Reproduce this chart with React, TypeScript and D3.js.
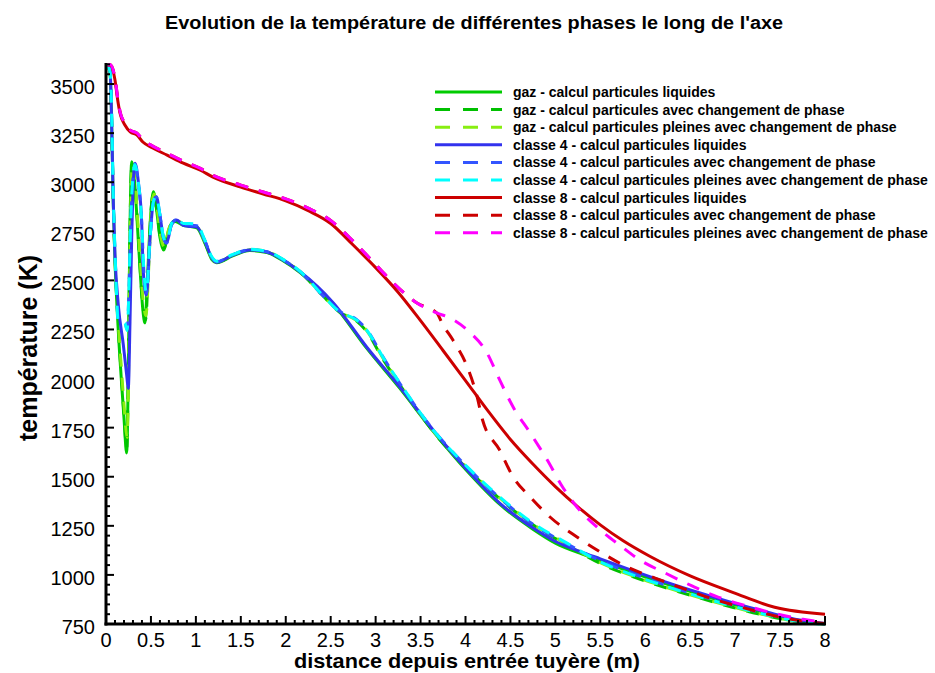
import React, { useRef, useEffect } from "react";
import * as d3 from "d3";

type Pt = [number, number];

// gaz
const gazLiq: Pt[] = [
  [0.02, 3590], [0.045, 3560], [0.063, 3300], [0.08, 2900], [0.1, 2600], [0.13, 2300],
  [0.17, 2000], [0.2, 1800], [0.23, 1621], [0.25, 2100], [0.265, 2700], [0.286, 3104],
  [0.31, 3050], [0.34, 2850], [0.38, 2550], [0.41, 2350], [0.434, 2283], [0.46, 2500],
  [0.5, 2850], [0.527, 2952], [0.56, 2870], [0.6, 2720], [0.64, 2655], [0.7, 2760],
  [0.77, 2800], [0.86, 2780], [0.93, 2775], [1.01, 2768], [1.1, 2690], [1.18, 2605],
  [1.23, 2590], [1.41, 2625], [1.6, 2652], [1.79, 2642], [1.97, 2600], [2.16, 2540],
  [2.53, 2380], [2.9, 2155], [3.27, 1950], [3.64, 1732], [4.02, 1528], [4.38, 1360],
  [4.75, 1233], [5.0, 1162], [5.3, 1106], [5.5, 1073], [5.86, 1012], [6.24, 953],
  [6.61, 900], [6.98, 850], [7.35, 805], [7.72, 765], [8.0, 750],
];
const gazChg: Pt[] = [
  [0.02, 3590], [0.045, 3560], [0.063, 3310], [0.08, 2910], [0.1, 2610], [0.13, 2320],
  [0.17, 2020], [0.2, 1820], [0.23, 1645], [0.25, 2110], [0.265, 2700], [0.29, 3100],
  [0.315, 3040], [0.345, 2840], [0.38, 2560], [0.41, 2370], [0.44, 2300], [0.47, 2540],
  [0.5, 2850], [0.53, 2945], [0.56, 2880], [0.6, 2730], [0.645, 2665], [0.7, 2765],
  [0.775, 2805], [0.86, 2785], [0.93, 2780], [1.01, 2772], [1.1, 2695], [1.18, 2610],
  [1.23, 2592], [1.41, 2628], [1.6, 2655], [1.79, 2645], [1.97, 2604], [2.16, 2543],
  [2.4, 2428], [2.6, 2338], [2.79, 2292], [2.9, 2240], [3.08, 2100], [3.27, 1968],
  [3.64, 1730], [4.02, 1540], [4.38, 1388], [4.75, 1255], [5.13, 1152], [5.5, 1058],
  [5.86, 992], [6.24, 933], [6.61, 882], [6.98, 834], [7.35, 792], [7.72, 760], [8.0, 750],
];
const gazPl: Pt[] = [
  [0.02, 3590], [0.045, 3560], [0.063, 3320], [0.08, 2920], [0.1, 2630], [0.13, 2340],
  [0.17, 2060], [0.2, 1870], [0.235, 1700], [0.255, 2150], [0.27, 2700], [0.292, 3090],
  [0.32, 3030], [0.35, 2830], [0.385, 2570], [0.415, 2390], [0.445, 2320], [0.475, 2560],
  [0.505, 2860], [0.535, 2940], [0.565, 2880], [0.605, 2735], [0.65, 2670], [0.7, 2765],
  [0.78, 2808], [0.86, 2788], [0.93, 2783], [1.01, 2776], [1.1, 2698], [1.18, 2612],
  [1.23, 2594], [1.41, 2630], [1.6, 2657], [1.79, 2647], [1.97, 2606], [2.16, 2545],
  [2.4, 2430], [2.6, 2340], [2.79, 2295], [2.9, 2244], [3.08, 2105], [3.27, 1972],
  [3.64, 1734], [4.02, 1545], [4.38, 1392], [4.75, 1259], [5.13, 1156], [5.5, 1062],
  [5.86, 995], [6.24, 936], [6.61, 884], [6.98, 836], [7.35, 794], [7.72, 760], [8.0, 750],
];

// classe 4
const c4Liq: Pt[] = [
  [0.02, 3590], [0.045, 3575], [0.063, 3300], [0.082, 2884], [0.1, 2629], [0.137, 2374],
  [0.193, 2171], [0.23, 2018], [0.248, 1950], [0.267, 2288], [0.286, 2716], [0.304, 3001],
  [0.323, 3096], [0.36, 3001], [0.397, 2797], [0.415, 2543], [0.45, 2425], [0.49, 2716],
  [0.527, 2899], [0.56, 2926], [0.6, 2833], [0.64, 2716], [0.675, 2690], [0.73, 2785],
  [0.786, 2807], [0.86, 2780], [0.93, 2775], [1.01, 2772], [1.1, 2700], [1.18, 2612],
  [1.23, 2592], [1.41, 2629], [1.6, 2655], [1.79, 2645], [1.97, 2604], [2.16, 2544],
  [2.53, 2385], [2.9, 2161], [3.27, 1957], [3.64, 1738], [4.02, 1534], [4.38, 1366],
  [4.75, 1240], [5.0, 1170], [5.3, 1115], [5.5, 1082], [5.86, 1022], [6.24, 962],
  [6.61, 908], [6.98, 857], [7.35, 811], [7.72, 770], [8.0, 752],
];
const c4Chg: Pt[] = [
  [0.02, 3590], [0.045, 3570], [0.063, 3340], [0.08, 2940], [0.1, 2640], [0.12, 2410],
  [0.137, 2300], [0.17, 2295], [0.21, 2288], [0.235, 2250], [0.255, 2440], [0.275, 2790],
  [0.3, 3020], [0.32, 3085], [0.36, 2995], [0.397, 2795], [0.42, 2555], [0.45, 2435],
  [0.49, 2710], [0.527, 2895], [0.56, 2925], [0.6, 2830], [0.64, 2715], [0.675, 2690],
  [0.73, 2785], [0.786, 2810], [0.86, 2785], [0.93, 2782], [1.01, 2778], [1.1, 2702],
  [1.18, 2615], [1.23, 2595], [1.41, 2630], [1.6, 2656], [1.79, 2646], [1.97, 2605],
  [2.16, 2545], [2.4, 2428], [2.6, 2342], [2.79, 2300], [2.9, 2250], [3.08, 2112],
  [3.27, 1975], [3.64, 1740], [4.02, 1548], [4.38, 1392], [4.75, 1258], [5.13, 1158],
  [5.5, 1072], [5.86, 1006], [6.24, 946], [6.61, 893], [6.98, 845], [7.35, 801],
  [7.72, 765], [8.0, 750],
];
const c4Pl: Pt[] = [
  [0.02, 3590], [0.045, 3565], [0.063, 3350], [0.08, 2950], [0.1, 2650], [0.12, 2400],
  [0.137, 2285], [0.17, 2290], [0.21, 2283], [0.235, 2245], [0.255, 2450], [0.275, 2800],
  [0.3, 3030], [0.32, 3090], [0.36, 3000], [0.397, 2800], [0.42, 2560], [0.45, 2440],
  [0.49, 2716], [0.527, 2900], [0.56, 2930], [0.6, 2835], [0.64, 2720], [0.675, 2695],
  [0.73, 2790], [0.786, 2815], [0.86, 2790], [0.93, 2790], [1.01, 2785], [1.1, 2705],
  [1.18, 2618], [1.23, 2598], [1.41, 2632], [1.6, 2658], [1.79, 2648], [1.97, 2607],
  [2.16, 2546], [2.4, 2430], [2.6, 2340], [2.79, 2298], [2.9, 2247], [3.08, 2110],
  [3.27, 1977], [3.64, 1738], [4.02, 1550], [4.38, 1397], [4.75, 1264], [5.13, 1162],
  [5.5, 1066], [5.86, 1000], [6.24, 940], [6.61, 888], [6.98, 840], [7.35, 797],
  [7.72, 762], [8.0, 748],
];

// classe 8
const c8Liq: Pt[] = [
  [0.02, 3595], [0.045, 3597], [0.1, 3520], [0.13, 3419], [0.156, 3352], [0.21, 3291],
  [0.27, 3256], [0.345, 3240], [0.41, 3205], [0.52, 3174], [0.68, 3138], [0.86, 3097],
  [1.05, 3061], [1.19, 3026], [1.5, 2975], [1.75, 2940], [2.0, 2905], [2.25, 2855],
  [2.5, 2790], [2.75, 2680], [3.0, 2565], [3.25, 2440], [3.5, 2295], [3.75, 2143],
  [4.0, 1990], [4.25, 1835], [4.5, 1690], [4.75, 1565], [5.0, 1450], [5.25, 1347],
  [5.5, 1255], [5.75, 1175], [6.05, 1095], [6.5, 995], [6.98, 910], [7.44, 835], [8.0, 800],
];
const c8Chg: Pt[] = [
  [0.02, 3595], [0.045, 3600], [0.1, 3530], [0.13, 3430], [0.156, 3360], [0.21, 3300],
  [0.27, 3265], [0.345, 3250], [0.41, 3215], [0.52, 3184], [0.68, 3148], [0.86, 3107],
  [1.05, 3070], [1.19, 3035], [1.5, 2985], [1.75, 2950], [2.0, 2915], [2.25, 2868],
  [2.5, 2805], [2.75, 2700], [2.94, 2610], [3.19, 2490], [3.46, 2385], [3.68, 2334],
  [3.75, 2273], [3.86, 2196], [4.02, 2059], [4.13, 1906], [4.19, 1789], [4.38, 1636],
  [4.53, 1499], [4.72, 1397], [4.94, 1295], [5.24, 1193], [5.5, 1117], [5.8, 1040],
  [6.11, 984], [6.41, 933], [6.72, 882], [7.02, 842], [7.31, 806], [7.61, 775], [8.0, 752],
];
const c8Pl: Pt[] = [
  [0.02, 3595], [0.045, 3600], [0.1, 3530], [0.13, 3430], [0.156, 3360], [0.21, 3300],
  [0.27, 3265], [0.345, 3250], [0.41, 3215], [0.52, 3184], [0.68, 3148], [0.86, 3107],
  [1.05, 3070], [1.19, 3035], [1.5, 2985], [1.75, 2950], [2.0, 2915], [2.25, 2868],
  [2.5, 2805], [2.75, 2700], [2.94, 2610], [3.19, 2490], [3.46, 2385], [3.68, 2334],
  [3.83, 2308], [4.02, 2247], [4.24, 2130], [4.38, 1993], [4.53, 1855], [4.72, 1723],
  [4.91, 1585], [5.08, 1448], [5.24, 1346], [5.5, 1229], [5.72, 1150], [5.94, 1076],
  [6.22, 1010], [6.52, 944], [6.81, 887], [7.13, 842], [7.42, 806], [7.74, 775], [8.0, 760],
];

const labels = [
  "gaz - calcul particules liquides",
  "gaz - calcul  particules avec changement de phase",
  "gaz - calcul particules pleines avec changement de phase",
  "classe 4 - calcul particules liquides",
  "classe 4 - calcul particules avec changement de phase",
  "classe 4 - calcul particules pleines avec changement de phase",
  "classe 8 - calcul particules liquides",
  "classe 8 - calcul particules avec changement de phase",
  "classe 8 - calcul particules pleines avec changement de phase",
];
const colors = [
  "#00cc00", "#00c000", "#88ee11",
  "#3333ee", "#3355ff", "#00ffff",
  "#cc0000", "#cc0000", "#ff00ff",
];
const dashed = [false, true, true, false, true, true, false, true, true];
const seriesData = [gazLiq, gazChg, gazPl, c4Liq, c4Chg, c4Pl, c8Liq, c8Chg, c8Pl];

const yTicks = [750, 1000, 1250, 1500, 1750, 2000, 2250, 2500, 2750, 3000, 3250, 3500];
const xTicks = [0, 0.5, 1, 1.5, 2, 2.5, 3, 3.5, 4, 4.5, 5, 5.5, 6, 6.5, 7, 7.5, 8];

const W = 935;
const H = 673;
const FONT = "'Liberation Sans', Arial, Helvetica, sans-serif";

export default function App() {
  const ref = useRef<SVGSVGElement>(null);

  useEffect(() => {
    const svg = d3.select(ref.current);
    svg.selectAll("*").remove();

    const x = d3.scaleLinear().domain([0, 8]).range([106, 825]);
    const y = d3.scaleLinear().domain([750, 3600]).range([624, 64.4]);

    svg.append("defs").append("clipPath").attr("id", "plot")
      .append("rect").attr("x", 106).attr("y", 60).attr("width", 725).attr("height", 566);

    // title
    svg.append("text")
      .attr("x", 474).attr("y", 29)
      .attr("text-anchor", "middle")
      .attr("font-family", FONT).attr("font-weight", "bold").attr("font-size", 18)
      .attr("textLength", 618).attr("lengthAdjust", "spacingAndGlyphs")
      .text("Evolution de la température de différentes phases le long de l'axe");

    // lines
    const line = d3.line<Pt>()
      .x((d) => x(d[0]))
      .y((d) => y(d[1]))
      .curve(d3.curveMonotoneX);

    const g = svg.append("g").attr("clip-path", "url(#plot)");
    seriesData.forEach((s, i) => {
      g.append("path")
        .attr("d", line(s))
        .attr("fill", "none")
        .attr("stroke", colors[i])
        .attr("stroke-width", 3)
        .attr("stroke-linejoin", "round")
        .attr("stroke-dasharray", dashed[i] ? "13,11" : null);
    });

    // axes
    const axes = svg.append("g").attr("stroke", "#000");
    d3.range(750, 3601, 50).forEach((v) => {
      const major = v % 250 === 0;
      axes.append("line")
        .attr("x1", 106).attr("x2", 106 + (major ? 8 : 4))
        .attr("y1", y(v)).attr("y2", y(v))
        .attr("stroke-width", 2);
    });
    d3.range(0, 81).forEach((k) => {
      const v = k / 10;
      const major = k % 5 === 0;
      axes.append("line")
        .attr("x1", x(v)).attr("x2", x(v))
        .attr("y1", 624).attr("y2", 624 - (major ? 8 : 4))
        .attr("stroke-width", 2);
    });
    axes.append("line").attr("x1", 106).attr("x2", 106).attr("y1", 63).attr("y2", 625.5).attr("stroke-width", 3);
    axes.append("line").attr("x1", 104.5).attr("x2", 826).attr("y1", 624).attr("y2", 624).attr("stroke-width", 3);

    svg.append("g").selectAll("text").data(yTicks).join("text")
      .attr("x", 95).attr("y", (d) => y(d) + 10)
      .attr("text-anchor", "end")
      .attr("font-family", FONT).attr("font-size", 20)
      .text((d) => String(d));

    svg.append("g").selectAll("text").data(xTicks).join("text")
      .attr("x", (d) => x(d)).attr("y", 647)
      .attr("text-anchor", "middle")
      .attr("font-family", FONT).attr("font-size", 20)
      .text((d) => String(d));

    svg.append("text")
      .attr("x", 467).attr("y", 668)
      .attr("text-anchor", "middle")
      .attr("font-family", FONT).attr("font-weight", "bold").attr("font-size", 21)
      .attr("textLength", 346).attr("lengthAdjust", "spacingAndGlyphs")
      .text("distance depuis entrée tuyère (m)");

    svg.append("text")
      .attr("transform", "translate(37,348) rotate(-90)")
      .attr("text-anchor", "middle")
      .attr("font-family", FONT).attr("font-weight", "bold").attr("font-size", 25)
      .attr("textLength", 186).attr("lengthAdjust", "spacingAndGlyphs")
      .text("température (K)");

    // legend
    const leg = svg.append("g");
    labels.forEach((lab, i) => {
      const ry = 92 + i * 17.6;
      leg.append("line")
        .attr("x1", 435).attr("x2", 502).attr("y1", ry).attr("y2", ry)
        .attr("stroke", colors[i]).attr("stroke-width", 3)
        .attr("stroke-dasharray", dashed[i] ? "15,13" : null);
      leg.append("text")
        .attr("x", 513).attr("y", ry + 5)
        .attr("font-family", FONT).attr("font-weight", "bold").attr("font-size", 14)
        .text(lab);
    });
  }, []);

  return (
    <svg
      ref={ref}
      width={W}
      height={H}
      style={{ position: "absolute", left: 0, top: 0, background: "#fff" }}
    />
  );
}
